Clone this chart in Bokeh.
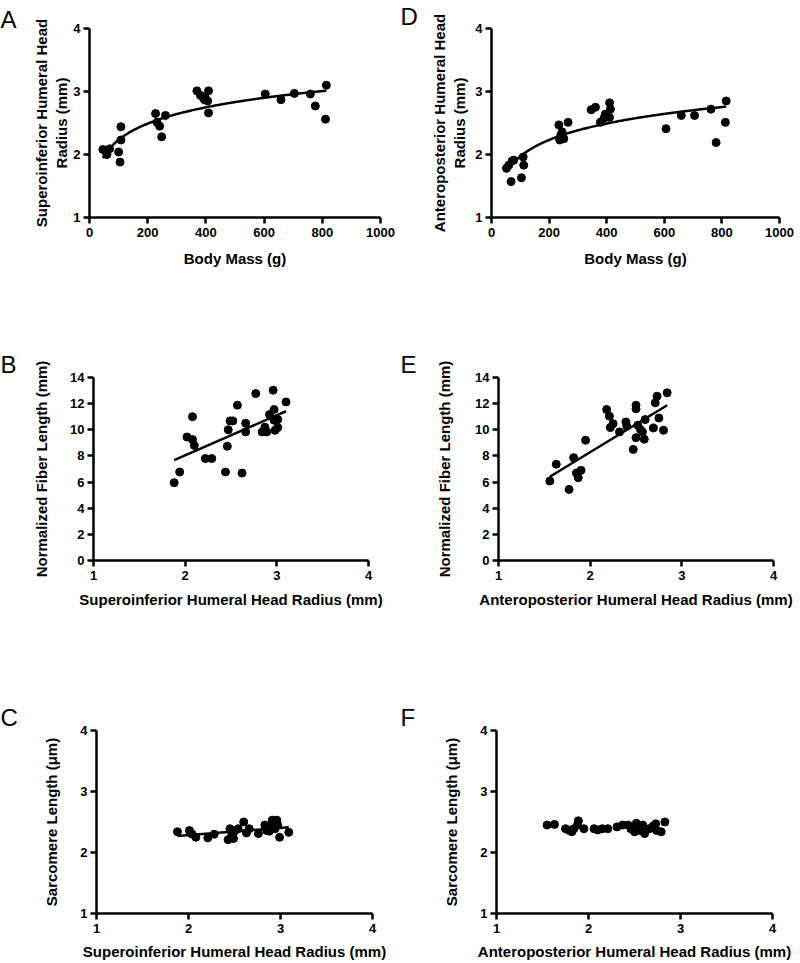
import numpy as np
from bokeh.plotting import figure
from bokeh.models import FixedTicker, Title
from bokeh.layouts import column, row
from bokeh.embed import file_html
from bokeh.resources import INLINE

# ---------------- data ----------------
A_mass = [46, 57, 60, 69, 100, 105, 108, 108, 227, 232, 241, 248, 261, 369, 381, 387, 395, 398, 406, 409, 409, 604, 658, 704, 759, 776, 811, 814]
A_si = [2.08, 2.04, 2.00, 2.09, 2.04, 1.88, 2.44, 2.23, 2.65, 2.51, 2.45, 2.28, 2.62, 3.01, 2.94, 2.92, 2.87, 2.90, 2.85, 3.01, 2.66, 2.96, 2.87, 2.97, 2.96, 2.77, 2.56, 3.10]

D_mass = [52, 60, 68, 72, 77, 104, 110, 112, 234, 237, 240, 245, 251, 266, 346, 361, 378, 390, 395, 410, 410, 413, 606, 659, 705, 762, 780, 812, 815]
D_ap = [1.78, 1.83, 1.57, 1.90, 1.91, 1.63, 1.96, 1.83, 2.47, 2.23, 2.30, 2.36, 2.25, 2.51, 2.71, 2.75, 2.51, 2.57, 2.64, 2.82, 2.59, 2.72, 2.41, 2.62, 2.62, 2.72, 2.19, 2.51, 2.85]

B_si = [1.88, 1.94, 2.02, 2.08, 2.08, 2.10, 2.22, 2.29, 2.44, 2.46, 2.47, 2.49, 2.52, 2.57, 2.62, 2.66, 2.66, 2.77, 2.84, 2.87, 2.89, 2.92, 2.96, 2.97, 2.97, 2.98, 3.01, 3.01, 3.10]
B_fl = [5.95, 6.77, 9.45, 11.0, 9.25, 8.8, 7.8, 7.8, 6.77, 8.74, 10.0, 10.68, 10.68, 11.88, 6.69, 9.84, 10.5, 12.77, 9.84, 10.2, 9.84, 11.16, 13.03, 11.55, 10.73, 9.96, 10.78, 10.17, 12.13]

E_ap = [1.56, 1.63, 1.77, 1.82, 1.85, 1.87, 1.90, 1.95, 2.18, 2.21, 2.22, 2.25, 2.32, 2.39, 2.40, 2.47, 2.50, 2.50, 2.50, 2.52, 2.55, 2.57, 2.59, 2.60, 2.69, 2.71, 2.73, 2.75, 2.80, 2.84]
E_fl = [6.08, 7.36, 5.44, 7.87, 6.69, 6.33, 6.9, 9.2, 11.55, 11.04, 10.17, 10.47, 9.84, 10.6, 10.27, 8.5, 11.88, 11.6, 9.4, 10.35, 10.0, 9.84, 9.28, 10.78, 10.14, 12.06, 12.57, 10.9, 9.96, 12.83]

C_si = [1.88, 2.01, 2.04, 2.08, 2.21, 2.28, 2.43, 2.45, 2.47, 2.49, 2.50, 2.54, 2.60, 2.63, 2.66, 2.76, 2.83, 2.85, 2.88, 2.91, 2.91, 2.94, 2.96, 2.97, 2.99, 3.09]
C_sl = [2.34, 2.36, 2.30, 2.25, 2.24, 2.30, 2.21, 2.39, 2.28, 2.23, 2.35, 2.39, 2.50, 2.32, 2.39, 2.31, 2.45, 2.36, 2.35, 2.53, 2.45, 2.39, 2.53, 2.45, 2.25, 2.33]

F_ap = [1.55, 1.63, 1.75, 1.79, 1.82, 1.84, 1.88, 1.89, 1.95, 2.06, 2.10, 2.15, 2.21, 2.31, 2.37, 2.43, 2.46, 2.50, 2.52, 2.54, 2.56, 2.59, 2.61, 2.66, 2.70, 2.73, 2.74, 2.79, 2.83]
F_sl = [2.45, 2.46, 2.39, 2.36, 2.34, 2.39, 2.45, 2.52, 2.39, 2.39, 2.37, 2.39, 2.39, 2.42, 2.45, 2.45, 2.39, 2.34, 2.48, 2.42, 2.36, 2.45, 2.31, 2.39, 2.43, 2.47, 2.36, 2.34, 2.50]

mass_ticks = [0, 200, 400, 600, 800, 1000]
radius_ticks = [1, 2, 3, 4]
fiber_ticks = [0, 2, 4, 6, 8, 10, 12, 14]

FONT = "Liberation Sans"


def panel(width, height, xr, yr, xt, yt, left, right, top, bottom,
          xlabel, ylabel, ystand, xstand, letter, lstand=0):
    p = figure(width=width, height=height, x_range=xr, y_range=yr,
               output_backend="svg", toolbar_location=None,
               min_border_left=left, min_border_right=right,
               min_border_top=top, min_border_bottom=bottom)
    p.outline_line_color = None
    p.xgrid.visible = False
    p.ygrid.visible = False
    p.xaxis.ticker = FixedTicker(ticks=xt)
    p.yaxis.ticker = FixedTicker(ticks=yt)
    for ax in (p.xaxis[0], p.yaxis[0]):
        ax.axis_line_width = 2.5
        ax.axis_line_color = "black"
        ax.major_tick_line_width = 2.5
        ax.major_tick_line_color = "black"
        ax.major_tick_out = 6
        ax.major_tick_in = 0
        ax.minor_tick_line_color = None
        ax.major_label_text_font = FONT
        ax.major_label_text_font_style = "bold"
        ax.major_label_text_font_size = "13px"
        ax.major_label_text_color = "black"
        ax.axis_label_text_font = FONT
        ax.axis_label_text_font_style = "bold"
        ax.axis_label_text_font_size = "15px"
        ax.axis_label_text_color = "black"
    p.xaxis.axis_label = xlabel
    p.yaxis.axis_label = ylabel
    p.xaxis.major_label_standoff = 4
    p.yaxis.major_label_standoff = 3
    p.yaxis.axis_label_standoff = ystand
    p.xaxis.axis_label_standoff = xstand
    p.add_layout(Title(text=letter, align="left", offset=-left, standoff=lstand,
                       text_font=FONT, text_font_style="normal",
                       text_font_size="24px", text_line_height=1.0,
                       text_color="black"), "above")
    return p


def logfit(x, y):
    x = np.asarray(x, float); y = np.asarray(y, float)
    b, a = np.polyfit(np.log(x), y, 1)
    xs = np.linspace(x.min(), x.max(), 200)
    return xs, a + b * np.log(xs)


def linfit(x, y):
    x = np.asarray(x, float); y = np.asarray(y, float)
    b, a = np.polyfit(x, y, 1)
    xs = np.array([x.min(), x.max()])
    return xs, a + b * xs


WL, WR = 400, 399
H1, H2, H3 = 300, 320, 342
SIZE = 8

pA = panel(WL, H1, (0, 1000), (1, 4), mass_ticks, radius_ticks, 89, 20, 22, 83,
           "Body Mass (g)", "Superoinferior Humeral Head\nRadius (mm)", 0, 10, "A", -8)
pA.scatter(A_mass, A_si, size=SIZE, color="black")
xs, ys = logfit(A_mass, A_si)
pA.line(xs, ys, line_width=2.5, color="black")

pD = panel(WR, H1, (0, 1000), (1, 4), mass_ticks, radius_ticks, 91, 20, 28, 80,
           "Body Mass (g)", "Anteroposterior Humeral Head\nRadius (mm)", 4, 10, "D", -2)
pD.scatter(D_mass, D_ap, size=SIZE, color="black")
xs, ys = logfit(D_mass, D_ap)
pD.line(xs, ys, line_width=2.5, color="black")

pB = panel(WL, H2, (1, 4), (0, 14), radius_ticks, fiber_ticks, 93, 32, 77, 60,
           "Superoinferior Humeral Head Radius (mm)", "Normalized Fiber Length (mm)", 17, 8, "B")
pB.scatter(B_si, B_fl, size=SIZE, color="black")
xs, ys = linfit(B_si, B_fl)
pB.line(xs, ys, line_width=2.5, color="black")

pE = panel(WR, H2, (1, 4), (0, 14), radius_ticks, fiber_ticks, 98, 26, 77, 60,
           "Anteroposterior Humeral Head Radius (mm)", "Normalized Fiber Length (mm)", 19, 8, "E")
pE.scatter(E_ap, E_fl, size=SIZE, color="black")
xs, ys = linfit(E_ap, E_fl)
pE.line(xs, ys, line_width=2.5, color="black")

pC = panel(WL, H3, (1, 4), (1, 4), radius_ticks, radius_ticks, 96, 28, 110, 49,
           "Superoinferior Humeral Head Radius (mm)", "Sarcomere Length (\u03bcm)", 17, 7, "C")
pC.scatter(C_si, C_sl, size=SIZE, color="black")
xs, ys = linfit(C_si, C_sl)
pC.line(xs, ys, line_width=2.5, color="black")

pF = panel(WR, H3, (1, 4), (1, 4), radius_ticks, radius_ticks, 96, 27, 110, 49,
           "Anteroposterior Humeral Head Radius (mm)", "Sarcomere Length (\u03bcm)", 17, 7, "F")
pF.scatter(F_ap, F_sl, size=SIZE, color="black")

layout = column(row(pA, pD), row(pB, pE), row(pC, pF))
open("out.html", "w").write(file_html(layout, INLINE))
